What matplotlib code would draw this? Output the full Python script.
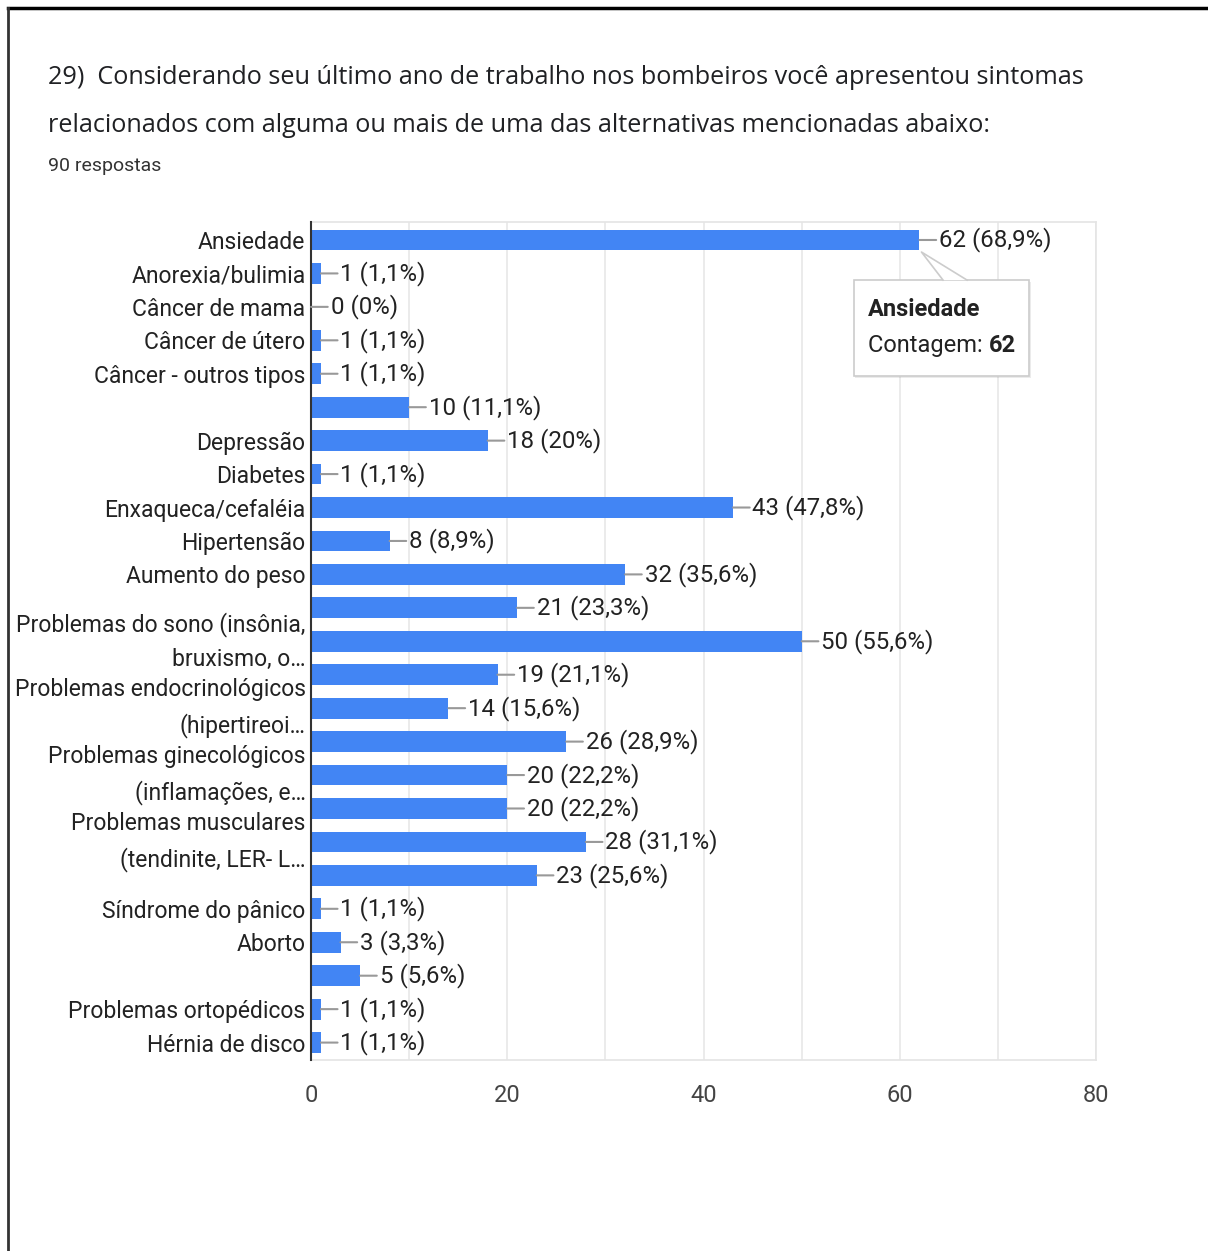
import matplotlib.pyplot as plt
import matplotlib.lines as mlines
import matplotlib.patches as mpatches
import numpy as np

# data
categories = [
    "Ansiedade", "Anorexia/bulimia", "Câncer de mama", "Câncer de útero",
    "Câncer - outros tipos", "", "Depressão", "Diabetes", "Enxaqueca/cefaléia",
    "Hipertensão", "Aumento do peso", "",
    "Problemas do sono (insônia,\nbruxismo, o…", "",
    "Problemas endocrinológicos\n(hipertireoi…", "",
    "Problemas ginecológicos\n(inflamações, e…", "",
    "Problemas musculares\n(tendinite, LER- L…", "",
    "Síndrome do pânico", "Aborto", "", "Problemas ortopédicos", "Hérnia de disco",
]
counts = [62, 1, 0, 1, 1, 10, 18, 1, 43, 8, 32, 21, 50, 19, 14, 26, 20, 20, 28, 23,
          1, 3, 5, 1, 1]
total_responses = 90
x_ticks = [0, 20, 40, 60, 80]

title_lines = [
    "29)  Considerando seu último ano de trabalho nos bombeiros você apresentou sintomas",
    "relacionados com alguma ou mais de uma das alternativas mencionadas abaixo:",
]
subtitle = "90 respostas"

BAR = "#4285f4"
TXT = "#222222"

plt.rcParams["font.family"] = ["Roboto", "DejaVu Sans"]


def pct_label(n):
    p = round(n / total_responses * 100, 1)
    s = f"{p:.1f}".replace(".", ",")
    if s.endswith(",0"):
        s = s[:-2]
    return f"{n} ({s}%)"


fig = plt.figure(figsize=(12.08, 12.51), dpi=100)
ax = fig.add_axes([0.2575, 0.1527, 0.6499, 0.6699])

y = np.arange(len(counts))
ax.barh(y, counts, height=0.62, color=BAR, zorder=3)
ax.set_ylim(len(counts) - 0.48, -0.54)
ax.set_xlim(0, 80)

ax.set_xticks(x_ticks)
ax.set_xticks(np.arange(0, 81, 10), minor=True)
ax.grid(axis="x", which="both", color="#e8e8e8", lw=1.2, zorder=0)
ax.tick_params(axis="x", which="both", length=0, pad=17, labelsize=17,
               labelcolor="#444444")
ax.set_yticks(y)
ax.set_yticklabels(categories, linespacing=1.6)
ax.tick_params(axis="y", length=0, pad=4, labelsize=16.5, labelcolor=TXT)
for lab in ax.get_yticklabels():
    if "\n" in lab.get_text():
        lab.set_verticalalignment("center")

for side in ("top", "right", "bottom"):
    ax.spines[side].set_color("#e4e4e4")
    ax.spines[side].set_linewidth(1.2)
ax.spines["left"].set_color("#333333")
ax.spines["left"].set_linewidth(1.5)
ax.spines["left"].set_zorder(4)

for i, n in enumerate(counts):
    ax.annotate(
        pct_label(n), xy=(n, i), xytext=(14, 0), textcoords="offset points",
        ha="left", va="center", fontsize=17.3, color=TXT, zorder=5,
        arrowprops=dict(arrowstyle="-", color="#999999", lw=1.5,
                        shrinkA=0, shrinkB=0, relpos=(0, 0.5)),
    )

# tooltip over the first bar
ax_x, ax_y = counts[0], 0
box_x0, box_x1 = ax_x - 6.7, ax_x + 11.2
box_y0, box_y1 = ax_y + 1.2, ax_y + 4.07
shadow = mpatches.Rectangle((box_x0 + 0.15, box_y0 + 0.06), box_x1 - box_x0,
                            box_y1 - box_y0, fc="#000000", alpha=0.08, ec="none",
                            zorder=6)
ax.add_patch(shadow)
box = mpatches.Rectangle((box_x0, box_y0), box_x1 - box_x0, box_y1 - box_y0,
                         fc="white", ec="#cccccc", lw=1.2, zorder=7)
ax.add_patch(box)
tip = [(ax_x + 0.2, ax_y + 0.36), (ax_x + 2.4, box_y0), (ax_x + 4.85, box_y0)]
ax.add_patch(mpatches.Polygon(tip, closed=True, fc="white", ec="none", zorder=8,
                              clip_on=False))
ax.plot([tip[1][0], tip[0][0], tip[2][0]], [tip[1][1], tip[0][1], tip[2][1]],
        color="#cccccc", lw=1.2, zorder=8)
ax.text(box_x0 + 1.45, box_y0 + 0.88, categories[0], fontsize=17, fontweight="bold",
        color=TXT, va="center", ha="left", zorder=9)
t1 = ax.text(box_x0 + 1.45, box_y0 + 1.95, "Contagem: ", fontsize=17, color=TXT,
             va="center", ha="left", zorder=9)
ax.annotate(str(counts[0]), xy=(1, 0), xycoords=t1, va="bottom", ha="left",
            fontsize=17, fontweight="bold", color=TXT, zorder=9)

# header
fig.text(48 / 1208, 1 - 77 / 1251, title_lines[0], fontsize=18.2, color="#202124",
         family=["Open Sans", "DejaVu Sans"], va="center", ha="left")
fig.text(48 / 1208, 1 - 125 / 1251, title_lines[1], fontsize=18.2, color="#202124",
         family=["Open Sans", "DejaVu Sans"], va="center", ha="left")
fig.text(48 / 1208, 1 - 166 / 1251, subtitle, fontsize=14, color="#333333",
         va="center", ha="left")

# screenshot frame
fig.add_artist(mlines.Line2D([8 / 1208, 1], [1 - 8 / 1251, 1 - 8 / 1251],
                             color="black", lw=2.5, transform=fig.transFigure))
fig.add_artist(mlines.Line2D([8 / 1208, 8 / 1208], [0, 1 - 8 / 1251],
                             color="#333333", lw=2, transform=fig.transFigure))

fig.savefig("out.png", dpi=100)
